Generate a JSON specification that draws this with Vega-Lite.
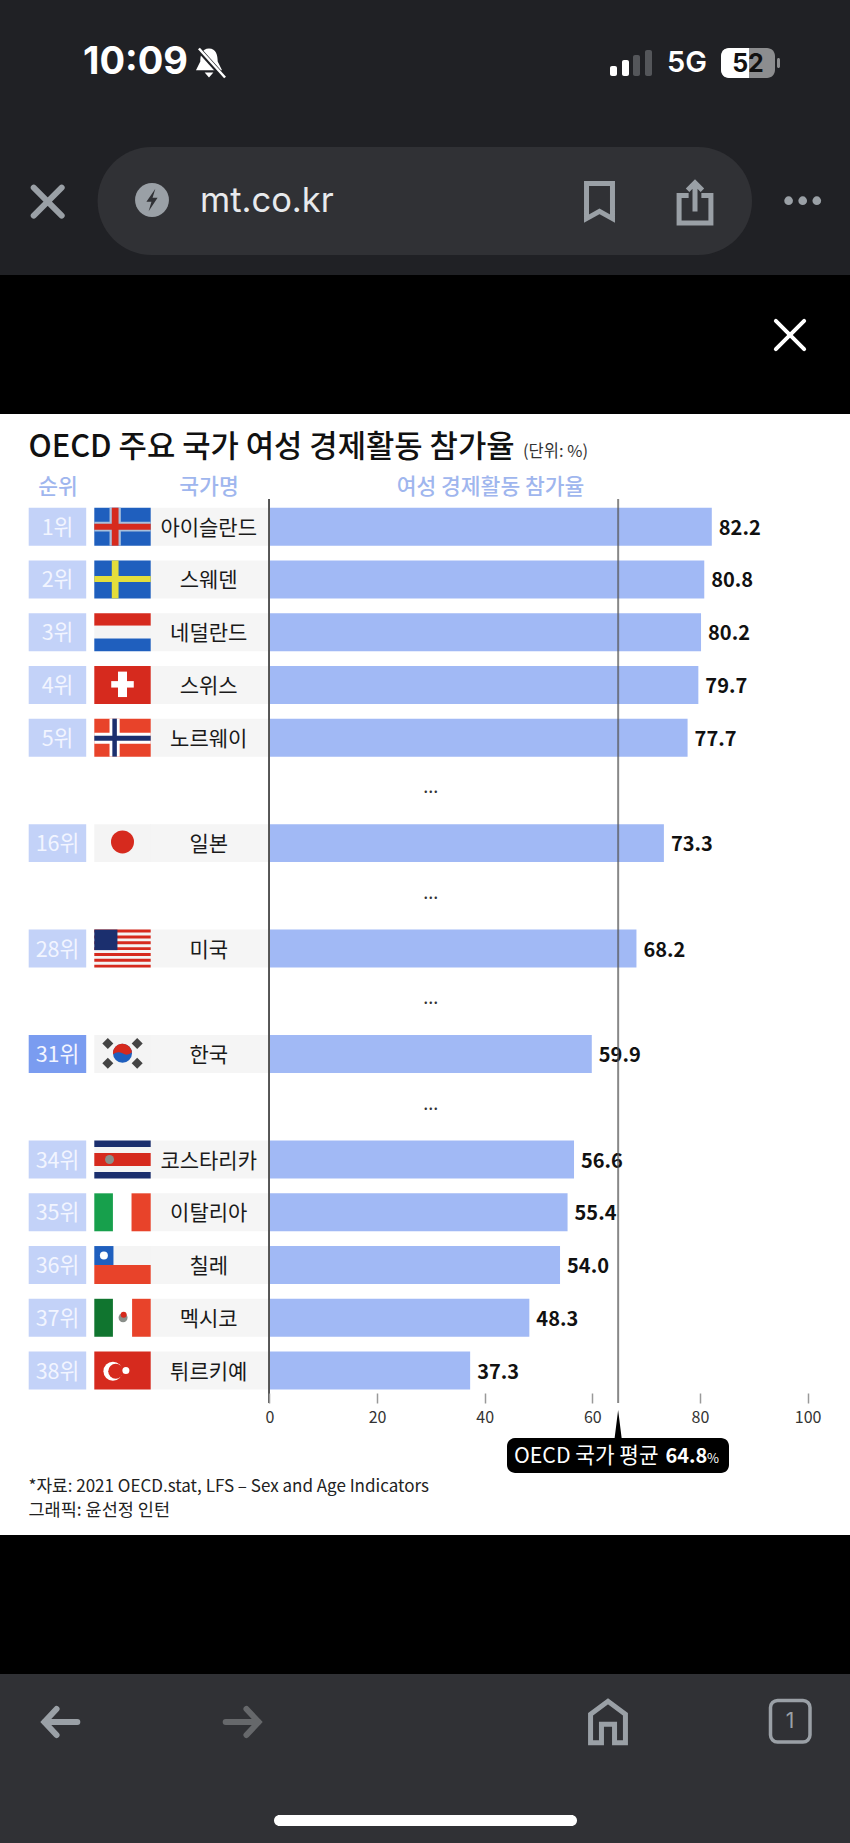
{
"$schema":"https://vega.github.io/schema/vega-lite/v6.json",
"width":850,"height":1843,"padding":0,"autosize":"none","background":"#000000",
"config":{"view":{"stroke":null},"font":"Noto Sans CJK KR"},
"data":{"values":[{"part":"page"}]},
"datasets":{
"rows":[
{"rank":"1위","country":"아이슬란드","value":82.2},
{"rank":"2위","country":"스웨덴","value":80.8},
{"rank":"3위","country":"네덜란드","value":80.2},
{"rank":"4위","country":"스위스","value":79.7},
{"rank":"5위","country":"노르웨이","value":77.7},
{"rank":"16위","country":"일본","value":73.3},
{"rank":"28위","country":"미국","value":68.2},
{"rank":"31위","country":"한국","value":59.9},
{"rank":"34위","country":"코스타리카","value":56.6},
{"rank":"35위","country":"이탈리아","value":55.4},
{"rank":"36위","country":"칠레","value":54.0},
{"rank":"37위","country":"멕시코","value":48.3},
{"rank":"38위","country":"튀르키예","value":37.3}],
"gaps":[{"rank":"gapA","dots":"..."},{"rank":"gapB","dots":"..."},{"rank":"gapC","dots":"..."},{"rank":"gapD","dots":"..."}],
"avg":[{"oecd":64.8}],
"flagParts":[
{"row":0,"c":"blue","a":0,"b":1,"t":0,"u":1},{"row":0,"c":"paleblue","a":0.27,"b":0.47,"t":0,"u":1},{"row":0,"c":"paleblue","a":0,"b":1,"t":0.37,"u":0.63},{"row":0,"c":"red","a":0.31,"b":0.43,"t":0,"u":1},{"row":0,"c":"red","a":0,"b":1,"t":0.42,"u":0.58},
{"row":1,"c":"blue","a":0,"b":1,"t":0,"u":1},{"row":1,"c":"yellow","a":0.31,"b":0.43,"t":0,"u":1},{"row":1,"c":"yellow","a":0,"b":1,"t":0.41,"u":0.57},
{"row":2,"c":"red","a":0,"b":1,"t":0,"u":0.33},{"row":2,"c":"offwhite","a":0,"b":1,"t":0.33,"u":0.67},{"row":2,"c":"blue","a":0,"b":1,"t":0.67,"u":1},
{"row":3,"c":"red","a":0,"b":1,"t":0,"u":1},{"row":3,"c":"white","a":0.42,"b":0.58,"t":0.15,"u":0.82},{"row":3,"c":"white","a":0.3,"b":0.7,"t":0.4,"u":0.57},
{"row":4,"c":"orange","a":0,"b":1,"t":0,"u":1},{"row":4,"c":"white","a":0.27,"b":0.45,"t":0,"u":1},{"row":4,"c":"white","a":0,"b":1,"t":0.37,"u":0.66},{"row":4,"c":"navy","a":0.32,"b":0.4,"t":0,"u":1},{"row":4,"c":"navy","a":0,"b":1,"t":0.45,"u":0.58},
{"row":6,"c":"offwhite","a":0,"b":1,"t":0,"u":1},
{"row":8,"c":"offwhite","a":0,"b":1,"t":0,"u":1},
{"row":8,"c":"red","a":0,"b":1,"t":0,"u":0.077},{"row":8,"c":"red","a":0,"b":1,"t":0.154,"u":0.231},{"row":8,"c":"red","a":0,"b":1,"t":0.308,"u":0.385},{"row":8,"c":"red","a":0,"b":1,"t":0.462,"u":0.539},{"row":8,"c":"red","a":0,"b":1,"t":0.616,"u":0.693},{"row":8,"c":"red","a":0,"b":1,"t":0.77,"u":0.847},{"row":8,"c":"red","a":0,"b":1,"t":0.923,"u":1},
{"row":8,"c":"navy","a":0,"b":0.41,"t":0,"u":0.54},
{"row":10,"c":"offwhite","a":0,"b":1,"t":0,"u":1},
{"row":12,"c":"navy","a":0,"b":1,"t":0,"u":0.17},{"row":12,"c":"offwhite","a":0,"b":1,"t":0.17,"u":0.33},{"row":12,"c":"red","a":0,"b":1,"t":0.33,"u":0.67},{"row":12,"c":"offwhite","a":0,"b":1,"t":0.67,"u":0.83},{"row":12,"c":"navy","a":0,"b":1,"t":0.83,"u":1},
{"row":13,"c":"green","a":0,"b":0.33,"t":0,"u":1},{"row":13,"c":"orange","a":0.66,"b":1,"t":0,"u":1},
{"row":14,"c":"offwhite","a":0.34,"b":1,"t":0,"u":0.5},{"row":14,"c":"blue","a":0,"b":0.34,"t":0,"u":0.5},{"row":14,"c":"orange","a":0,"b":1,"t":0.5,"u":1},
{"row":15,"c":"darkgreen","a":0,"b":0.33,"t":0,"u":1},{"row":15,"c":"orange","a":0.67,"b":1,"t":0,"u":1},
{"row":16,"c":"red","a":0,"b":1,"t":0,"u":1}
],
"flagDots":[
{"row":6,"fx":0.5,"fy":0.47,"d":23,"c":"red","sym":"circle"},
{"row":10,"fx":0.5,"fy":0.48,"d":19,"c":"blue","sym":"circle"},
{"row":10,"fx":0.5,"fy":0.48,"d":19,"c":"red","sym":"M-1,.1 A1,1 0 0 1 1,-.1 Q.5,.35 0,0 Q-.5,-.25 -1,.1 Z"},
{"row":10,"fx":0.24,"fy":0.22,"d":11,"c":"charcoal","sym":"diamond"},
{"row":10,"fx":0.76,"fy":0.22,"d":11,"c":"charcoal","sym":"diamond"},
{"row":10,"fx":0.24,"fy":0.74,"d":11,"c":"charcoal","sym":"diamond"},
{"row":10,"fx":0.76,"fy":0.74,"d":11,"c":"charcoal","sym":"diamond"},
{"row":12,"fx":0.27,"fy":0.5,"d":9,"c":"grey","sym":"circle"},
{"row":14,"fx":0.17,"fy":0.25,"d":8,"c":"white","sym":"circle"},
{"row":15,"fx":0.51,"fy":0.5,"d":9,"c":"grey","sym":"circle"},
{"row":15,"fx":0.52,"fy":0.42,"d":6,"c":"red","sym":"circle"},
{"row":16,"fx":0.33,"fy":0.52,"d":19,"c":"white","sym":"circle"},
{"row":16,"fx":0.38,"fy":0.52,"d":15,"c":"red","sym":"circle"},
{"row":16,"fx":0.56,"fy":0.5,"d":7,"c":"white","sym":"circle"}
]},
"resolve":{"scale":{"x":"independent","y":"independent"}},
"layer":[
{"layer":[
{"mark":{"type":"rect","x":0,"x2":850,"y":0,"y2":275,"fill":"#202125"},"encoding":{}},
{"mark":{"type":"rect","x":0,"x2":850,"y":414,"y2":1535,"fill":"#ffffff"},"encoding":{}},
{"mark":{"type":"rect","x":0,"x2":850,"y":1674,"y2":1843,"fill":"#303135"},"encoding":{}},
{"mark":{"type":"text","text":"10:09","x":83,"y":63,"align":"left","baseline":"middle","font":"Inter","fontWeight":700,"fontSize":38,"fill":"#ffffff"},"encoding":{}},
{"mark":{"type":"point","x":209,"y":63,"size":840,"filled":true,"opacity":1,"fill":"#ffffff","shape":"M0,-1 C.5,-1 .6,-.5 .6,-.1 L.9,.5 L-.9,.5 L-.6,-.1 C-.6,-.5 -.5,-1 0,-1 Z M-.3,.65 L.3,.65 L0,1 Z"},"encoding":{}},
{"mark":{"type":"point","x":211,"y":63,"size":840,"filled":false,"opacity":1,"stroke":"#202125","strokeWidth":5,"shape":"M-.9,-1 L.9,1"},"encoding":{}},
{"mark":{"type":"point","x":212,"y":63,"size":840,"filled":false,"opacity":1,"stroke":"#ffffff","strokeWidth":2.5,"shape":"M-.9,-1 L.9,1"},"encoding":{}},
{"mark":{"type":"rect","x":610,"x2":617,"y":66,"y2":76,"fill":"#ffffff","cornerRadius":2},"encoding":{}},
{"mark":{"type":"rect","x":622,"x2":629,"y":60,"y2":76,"fill":"#ffffff","cornerRadius":2},"encoding":{}},
{"mark":{"type":"rect","x":633,"x2":640,"y":55,"y2":76,"fill":"#54565a","cornerRadius":2},"encoding":{}},
{"mark":{"type":"rect","x":645,"x2":652,"y":50,"y2":76,"fill":"#54565a","cornerRadius":2},"encoding":{}},
{"mark":{"type":"text","text":"5G","x":667,"y":63,"align":"left","baseline":"middle","font":"Inter","fontWeight":600,"fontSize":29,"fill":"#ffffff"},"encoding":{}},
{"mark":{"type":"rect","x":721,"x2":775,"y":48,"y2":78,"fill":"#8c8d8f","cornerRadius":8},"encoding":{}},
{"mark":{"type":"rect","x":721,"x2":749,"y":48,"y2":78,"fill":"#ffffff","cornerRadiusTopLeft":8,"cornerRadiusBottomLeft":8},"encoding":{}},
{"mark":{"type":"rect","x":777,"x2":780,"y":58,"y2":68,"fill":"#8c8d8f","cornerRadius":1.5},"encoding":{}},
{"mark":{"type":"text","text":"52","x":748,"y":64,"align":"center","baseline":"middle","font":"Inter","fontWeight":700,"fontSize":25,"fill":"#111111"},"encoding":{}},
{"mark":{"type":"rect","x":97.6,"x2":752,"y":147,"y2":255,"fill":"#303135","cornerRadius":54},"encoding":{}},
{"mark":{"type":"point","x":47.7,"y":201.7,"size":780,"filled":false,"opacity":1,"stroke":"#9aa0a6","strokeWidth":6,"strokeCap":"round","shape":"M-1,-1 L1,1 M-1,1 L1,-1"},"encoding":{}},
{"mark":{"type":"point","x":152,"y":200,"size":1150,"filled":true,"opacity":1,"fill":"#9aa0a6","shape":"circle"},"encoding":{}},
{"mark":{"type":"point","x":152,"y":200,"size":500,"filled":true,"opacity":1,"fill":"#303135","shape":"M.3,-1 L-.5,.15 L-.05,.15 L-.3,1 L.5,-.2 L.05,-.2 Z"},"encoding":{}},
{"mark":{"type":"text","text":"mt.co.kr","x":200,"y":202,"align":"left","baseline":"middle","font":"Inter","fontWeight":400,"fontSize":34.5,"fill":"#e8eaed"},"encoding":{}},
{"mark":{"type":"point","x":599.5,"y":201.5,"size":1300,"filled":false,"opacity":1,"stroke":"#9aa0a6","strokeWidth":5,"shape":"M-.72,-1 L.72,-1 L.72,.95 L0,.55 L-.72,.95 Z"},"encoding":{}},
{"mark":{"type":"point","x":695,"y":204,"size":1800,"filled":false,"opacity":1,"stroke":"#9aa0a6","strokeWidth":5,"shape":"M-.3,-.4 L-.75,-.4 L-.75,.9 L.75,.9 L.75,-.4 L.3,-.4 M0,.35 L0,-.95 M-.35,-.65 L0,-1 L.35,-.65"},"encoding":{}},
{"mark":{"type":"point","x":788.6,"y":200.7,"size":75,"filled":true,"opacity":1,"fill":"#9aa0a6","shape":"circle"},"encoding":{}},
{"mark":{"type":"point","x":802.7,"y":200.7,"size":75,"filled":true,"opacity":1,"fill":"#9aa0a6","shape":"circle"},"encoding":{}},
{"mark":{"type":"point","x":816.8,"y":200.7,"size":75,"filled":true,"opacity":1,"fill":"#9aa0a6","shape":"circle"},"encoding":{}},
{"mark":{"type":"point","x":790,"y":335,"size":800,"filled":false,"opacity":1,"stroke":"#ffffff","strokeWidth":4,"strokeCap":"round","shape":"M-1,-1 L1,1 M-1,1 L1,-1"},"encoding":{}},
{"mark":{"type":"point","x":60,"y":1722,"size":1200,"filled":false,"opacity":1,"stroke":"#9aa0a6","strokeWidth":6,"strokeCap":"round","shape":"M1,0 L-.9,0 M-.2,-.75 L-.9,0 L-.2,.75"},"encoding":{}},
{"mark":{"type":"point","x":243,"y":1722,"size":1200,"filled":false,"opacity":1,"stroke":"#66686b","strokeWidth":6,"strokeCap":"round","shape":"M-1,0 L.9,0 M.2,-.75 L.9,0 L.2,.75"},"encoding":{}},
{"mark":{"type":"point","x":608,"y":1722,"size":1900,"filled":false,"opacity":1,"stroke":"#9aa0a6","strokeWidth":5,"shape":"M-.8,.95 L-.8,-.35 L0,-.95 L.8,-.35 L.8,.95 L.3,.95 L.3,.1 L-.3,.1 L-.3,.95 Z"},"encoding":{}},
{"mark":{"type":"rect","x":770.5,"x2":810,"y":1700.5,"y2":1742,"fill":"#303135","stroke":"#9aa0a6","strokeWidth":3.5,"cornerRadius":7},"encoding":{}},
{"mark":{"type":"text","text":"1","x":790,"y":1722,"align":"center","baseline":"middle","font":"Inter","fontSize":21,"fill":"#9aa0a6"},"encoding":{}},
{"mark":{"type":"rect","x":274,"x2":577,"y":1815,"y2":1826,"fill":"#ffffff","cornerRadius":5.5},"encoding":{}},
{"mark":{"type":"text","text":"OECD 주요 국가 여성 경제활동 참가율","x":28.5,"y":448,"align":"left","baseline":"middle","fontWeight":500,"fontSize":30.8,"fill":"#111111"},"encoding":{}},
{"mark":{"type":"text","text":"(단위: %)","x":523,"y":452,"align":"left","baseline":"middle","fontSize":16.5,"fill":"#333333"},"encoding":{}},
{"mark":{"type":"text","text":"순위","x":58,"y":488,"align":"center","baseline":"middle","fontSize":21.5,"fontWeight":500,"fill":"#9fb6ee"},"encoding":{}},
{"mark":{"type":"text","text":"국가명","x":209,"y":488,"align":"center","baseline":"middle","fontSize":21.5,"fontWeight":500,"fill":"#9fb6ee"},"encoding":{}},
{"mark":{"type":"text","text":"여성 경제활동 참가율","x":490.5,"y":488,"align":"center","baseline":"middle","fontSize":21.5,"fontWeight":500,"fill":"#9fb6ee"},"encoding":{}},
{"mark":{"type":"text","text":"*자료: 2021 OECD.stat, LFS – Sex and Age Indicators","x":28.5,"y":1487,"align":"left","baseline":"middle","fontSize":17,"fill":"#222222"},"encoding":{}},
{"mark":{"type":"text","text":"그래픽: 윤선정 인턴","x":28.5,"y":1511,"align":"left","baseline":"middle","fontSize":17.5,"fill":"#222222"},"encoding":{}}
]},
{"data":{"name":"rows"},
"encoding":{"y":{"field":"rank","type":"nominal","sort":null,"axis":null,"scale":{"type":"band","domain":["1위","2위","3위","4위","5위","gapA","16위","gapB","28위","gapC","31위","gapD","34위","35위","36위","37위","38위"],"range":[507.7,1389.5],"paddingInner":0.28,"paddingOuter":0}}},
"layer":[
{"mark":{"type":"rect","x":28.7,"x2":86.2},"encoding":{"fill":{"condition":{"test":"datum.rank === '31위'","value":"#7a9cf0"},"value":"#c3d2f8"}}},
{"mark":{"type":"rect","x":150,"x2":269.4,"fill":"#f5f5f5"}},
{"mark":{"type":"text","x":57.5,"dy":2,"align":"center","baseline":"middle","fontSize":21.5,"fill":"#f2f5ff"},"encoding":{"text":{"field":"rank"}}},
{"mark":{"type":"text","x":208.7,"dy":2,"align":"center","baseline":"middle","fontSize":21,"fill":"#1a1a1a"},"encoding":{"text":{"field":"country"}}},
{"mark":{"type":"bar","fill":"#a1b9f5"},"encoding":{"x":{"field":"value","type":"quantitative","scale":{"domain":[0,100],"range":[269.4,807.6],"nice":false},"axis":{"values":[0,20,40,60,80,100],"title":null,"grid":false,"domain":false,"zindex":1,"labelFlush":false,"tickSize":10,"tickColor":"#999999","tickWidth":1.5,"labelFontSize":16,"labelColor":"#333333","labelPadding":6,"offset":-450,"orient":"bottom"}}}},
{"mark":{"type":"text","align":"left","baseline":"middle","dx":7,"dy":2,"fontSize":20,"fontWeight":700,"fill":"#111111"},"encoding":{"x":{"field":"value","type":"quantitative"},"text":{"field":"value","type":"quantitative","format":".1f"}}},
{"data":{"name":"gaps"},"mark":{"type":"text","align":"center","baseline":"middle","fontSize":18,"fill":"#333333","dy":-2},"encoding":{"x":{"datum":30,"type":"quantitative"},"text":{"field":"dots"}}},
{"mark":{"type":"rule","y":499,"y2":1403,"stroke":"#555555","strokeWidth":1.2},"encoding":{"x":{"datum":0,"type":"quantitative"},"y":null}},
{"data":{"name":"avg"},"mark":{"type":"rule","y":499,"y2":1403,"stroke":"#555555","strokeOpacity":0.7,"strokeWidth":2},"encoding":{"x":{"field":"oecd","type":"quantitative"},"y":null}},
{"data":{"name":"avg"},"mark":{"type":"point","y":1424,"size":784,"filled":true,"opacity":1,"fill":"#000000","shape":"M0,-1 L.25,1 L-.25,1 Z"},"encoding":{"x":{"field":"oecd","type":"quantitative"},"y":null}},
{"data":{"name":"avg"},"mark":{"type":"rect","x":507,"x2":729,"y":1438,"y2":1473,"fill":"#000000","cornerRadius":8},"encoding":{"y":null}},
{"data":{"name":"avg"},"mark":{"type":"text","text":"OECD 국가 평균","x":514,"y":1457,"align":"left","baseline":"middle","fontSize":21.3,"fill":"#ffffff"},"encoding":{"y":null}},
{"data":{"name":"avg"},"mark":{"type":"text","x":665.5,"y":1457,"align":"left","baseline":"middle","fontSize":20,"fontWeight":700,"fill":"#ffffff"},"encoding":{"y":null,"text":{"field":"oecd","type":"quantitative","format":".1f"}}},
{"data":{"name":"avg"},"mark":{"type":"text","text":"%","x":707,"y":1459,"align":"left","baseline":"middle","fontSize":13,"fill":"#ffffff"},"encoding":{"y":null}}
]},
{"data":{"name":"flagParts"},
"transform":[{"calculate":"datum.row + datum.t*0.72","as":"y0"},{"calculate":"datum.row + datum.u*0.72","as":"y1"}],
"mark":{"type":"rect"},
"encoding":{
"x":{"field":"a","type":"quantitative","axis":null,"scale":{"domain":[0,1],"range":[94.3,150.7],"nice":false,"zero":false}},"x2":{"field":"b"},
"y":{"field":"y0","type":"quantitative","axis":null,"scale":{"domain":[0,16.72],"range":[507.7,1389.5],"nice":false,"zero":false}},"y2":{"field":"y1"},
"fill":{"field":"c","type":"nominal","legend":null,"scale":{"domain":["blue","paleblue","red","yellow","offwhite","white","orange","navy","green","darkgreen","charcoal","grey"],"range":["#1f5fbe","#a8c0dc","#d62a1e","#e4de3c","#f4f4f4","#ffffff","#e8432a","#1b2f6e","#17a04c","#10752f","#444444","#8a8f8a"]}}}},
{"data":{"name":"flagDots"},
"transform":[{"calculate":"datum.row + datum.fy*0.72","as":"py"},{"calculate":"datum.d*datum.d","as":"area"}],
"mark":{"type":"point","filled":true,"opacity":1},
"encoding":{
"x":{"field":"fx","type":"quantitative","axis":null,"scale":{"domain":[0,1],"range":[94.3,150.7],"nice":false,"zero":false}},
"y":{"field":"py","type":"quantitative","axis":null,"scale":{"domain":[0,16.72],"range":[507.7,1389.5],"nice":false,"zero":false}},
"size":{"field":"area","type":"quantitative","scale":null,"legend":null},
"shape":{"field":"sym","type":"nominal","scale":null,"legend":null},
"fill":{"field":"c","type":"nominal","legend":null,"scale":{"domain":["blue","paleblue","red","yellow","offwhite","white","orange","navy","green","darkgreen","charcoal","grey"],"range":["#1f5fbe","#a8c0dc","#d62a1e","#e4de3c","#f4f4f4","#ffffff","#e8432a","#1b2f6e","#17a04c","#10752f","#444444","#8a8f8a"]}}}}
]
}
